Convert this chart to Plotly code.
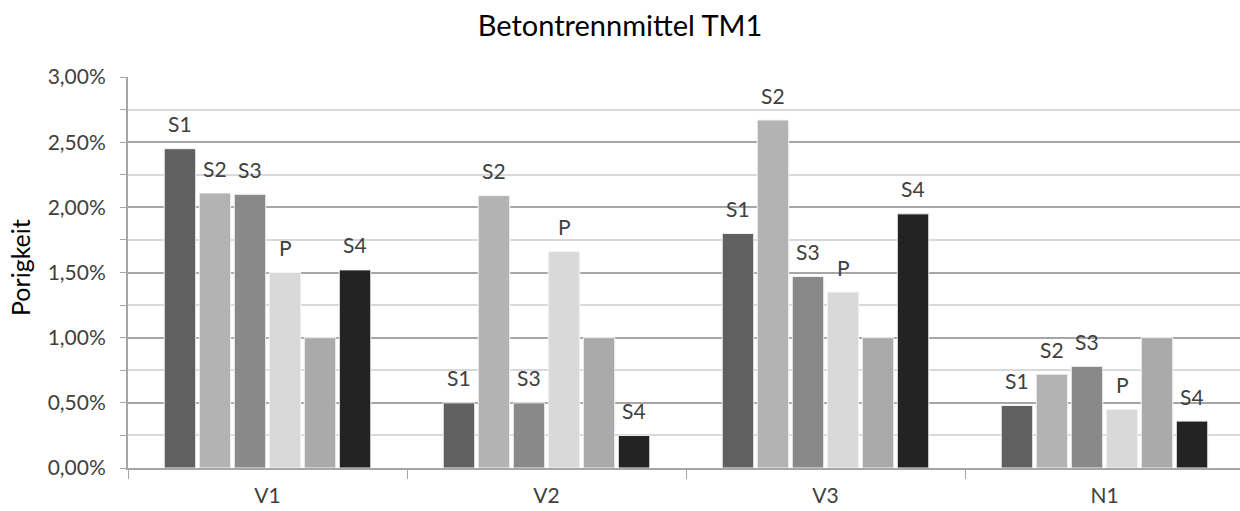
import plotly.graph_objects as go

# Categories and series
categories = ["V1", "V2", "V3", "N1"]
series_names = ["S1", "S2", "S3", "P", "", "S4"]

s1 = [0.0245, 0.0050, 0.0180, 0.0048]
s2 = [0.0211, 0.0209, 0.0267, 0.0072]
s3 = [0.0210, 0.0050, 0.0147, 0.0078]
p = [0.0150, 0.0166, 0.0135, 0.0045]
ref = [0.0100, 0.0100, 0.0100, 0.0100]
s4 = [0.0152, 0.0025, 0.0195, 0.0036]

series_values = [s1, s2, s3, p, ref, s4]
series_colors = ["#606060", "#b3b3b3", "#898989", "#d9d9d9", "#aaaaaa", "#232323"]

W, H = 1240, 511
M_L, M_R, M_T, M_B = 128, 0, 77, 43
BARGAP = 0.247
CAT_PX = 279.0  # width of one category slot in pixels

FONT = "Lato, Calibri, Carlito, sans-serif"
TXT = "#404040"

fig = go.Figure()
for name, vals, col in zip(series_names, series_values, series_colors):
    fig.add_trace(go.Bar(
        x=categories, y=vals, name=name or "ref",
        marker=dict(color=col, line=dict(color="#f4f4f4", width=1)),
        showlegend=False, hoverinfo="skip",
    ))

# Series labels above the bars
slot_px = CAT_PX * (1 - BARGAP) / len(series_names)
annotations = []
for i, (name, vals) in enumerate(zip(series_names, series_values)):
    if not name:
        continue
    for cat, v in zip(categories, vals):
        annotations.append(dict(
            x=cat, y=v, xref="x", yref="y", text=name, showarrow=False,
            xshift=(i - (len(series_names) - 1) / 2) * slot_px, yshift=25,
            xanchor="center", yanchor="middle",
            font=dict(family=FONT, size=21, color=TXT),
        ))

# Y axis title
plot_h = H - M_T - M_B
annotations.append(dict(
    x=(20 - M_L) / (W - M_L - M_R), y=(H - M_B - 267) / plot_h,
    xref="paper", yref="paper",
    text="Porigkeit", showarrow=False, textangle=-90,
    xanchor="center", yanchor="middle",
    font=dict(family=FONT, size=25, color="#000000"),
))

fig.update_layout(
    width=W, height=H,
    margin=dict(l=M_L, r=M_R, t=M_T, b=M_B, autoexpand=False),
    paper_bgcolor="white", plot_bgcolor="white",
    barmode="group", bargap=BARGAP, bargroupgap=0.1,
    separators=",.",
    title=dict(text="Betontrennmittel TM1", x=0.5, xanchor="center",
               y=1 - 26 / H, yanchor="middle", yref="container",
               font=dict(family=FONT, size=29, color="#000000")),
    font=dict(family=FONT, size=21, color=TXT),
    annotations=annotations,
)

fig.update_xaxes(
    type="category", range=[-0.5, -0.5 + (W - M_L - M_R) / CAT_PX],
    showgrid=False, showline=True, linecolor="#a6a6a6", linewidth=2,
    ticks="outside", tickson="boundaries", ticklen=9, tickcolor="#a6a6a6",
    tickfont=dict(family=FONT, size=21, color=TXT),
    ticklabelstandoff=8,
    zeroline=False, fixedrange=True,
)
fig.update_yaxes(
    range=[0, 0.03], dtick=0.005, tickformat=".2%",
    showgrid=True, gridcolor="#a6a6a6", gridwidth=2,
    showline=True, linecolor="#a6a6a6", linewidth=2,
    ticks="outside", ticklen=6, tickcolor="#a6a6a6",
    minor=dict(dtick=0.0025, showgrid=True, gridcolor="#d9d9d9", gridwidth=2,
               ticks="outside", ticklen=6, tickcolor="#a6a6a6"),
    tickfont=dict(family=FONT, size=21, color=TXT),
    ticklabelstandoff=10,
    zeroline=False, fixedrange=True,
)

fig.write_html("out.html")
